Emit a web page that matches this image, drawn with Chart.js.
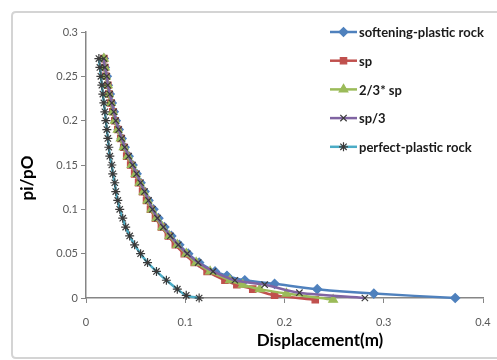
<!DOCTYPE html>
<html>
<head>
<meta charset="utf-8">
<script src="https://cdn.jsdelivr.net/npm/chart.js@4.4.1/dist/chart.umd.min.js"></script>
<style>
  html, body { margin: 0; padding: 0; background: #fff; }
  #wrap { width: 497px; height: 360px; position: relative; }
</style>
</head>
<body>
<div id="wrap"><canvas id="chart" width="497" height="360"></canvas></div>
<script>
// values: pi/pO levels and matching displacement (m)
const seriesNames = ["softening-plastic rock", "sp", "2/3* sp", "sp/3", "perfect-plastic rock"];

const softY = [0.27, 0.26, 0.25, 0.24, 0.23, 0.22, 0.21, 0.20, 0.19, 0.18, 0.17, 0.16, 0.15, 0.14, 0.13, 0.12, 0.11, 0.10, 0.09, 0.08, 0.07, 0.06, 0.05, 0.04, 0.03, 0.025, 0.02, 0.016, 0.01, 0.005, 0];
const softX = [0.018, 0.019, 0.021, 0.022, 0.024, 0.026, 0.028, 0.030, 0.033, 0.036, 0.039, 0.043, 0.047, 0.051, 0.055, 0.059, 0.063, 0.068, 0.073, 0.079, 0.086, 0.094, 0.103, 0.114, 0.130, 0.142, 0.160, 0.190, 0.233, 0.290, 0.372];

const spY = [0.27, 0.26, 0.25, 0.24, 0.23, 0.22, 0.21, 0.20, 0.19, 0.18, 0.17, 0.16, 0.15, 0.14, 0.13, 0.12, 0.11, 0.10, 0.09, 0.08, 0.07, 0.06, 0.05, 0.04, 0.03, 0.02, 0.015, 0.01, 0.003, -0.002];
const spX = [0.018, 0.019, 0.020, 0.022, 0.023, 0.025, 0.027, 0.029, 0.032, 0.035, 0.038, 0.041, 0.045, 0.049, 0.053, 0.057, 0.061, 0.065, 0.070, 0.076, 0.083, 0.090, 0.099, 0.109, 0.122, 0.140, 0.152, 0.168, 0.190, 0.231];

const sp23Y = [0.27, 0.26, 0.25, 0.24, 0.23, 0.22, 0.21, 0.20, 0.19, 0.18, 0.17, 0.16, 0.15, 0.14, 0.13, 0.12, 0.11, 0.10, 0.09, 0.08, 0.07, 0.06, 0.05, 0.04, 0.03, 0.02, 0.015, 0.01, 0.005, -0.002];
const sp23X = [0.018, 0.019, 0.020, 0.022, 0.023, 0.025, 0.027, 0.029, 0.032, 0.035, 0.038, 0.042, 0.046, 0.050, 0.054, 0.058, 0.062, 0.066, 0.071, 0.077, 0.084, 0.092, 0.101, 0.111, 0.125, 0.145, 0.158, 0.175, 0.202, 0.249];

const sp3Y = [0.27, 0.26, 0.25, 0.24, 0.23, 0.22, 0.21, 0.20, 0.19, 0.18, 0.17, 0.16, 0.15, 0.14, 0.13, 0.12, 0.11, 0.10, 0.09, 0.08, 0.07, 0.06, 0.05, 0.04, 0.03, 0.02, 0.015, 0.006, 0];
const sp3X = [0.018, 0.019, 0.021, 0.022, 0.024, 0.026, 0.028, 0.030, 0.033, 0.036, 0.039, 0.043, 0.047, 0.051, 0.055, 0.059, 0.063, 0.067, 0.072, 0.078, 0.085, 0.093, 0.102, 0.113, 0.128, 0.150, 0.180, 0.215, 0.281];

const perfY = [0.27, 0.26, 0.25, 0.24, 0.23, 0.22, 0.21, 0.20, 0.19, 0.18, 0.17, 0.16, 0.15, 0.14, 0.13, 0.12, 0.11, 0.10, 0.09, 0.08, 0.07, 0.06, 0.05, 0.04, 0.03, 0.02, 0.01, 0.003, 0];
const perfX = [0.013, 0.014, 0.015, 0.016, 0.017, 0.018, 0.019, 0.020, 0.021, 0.022, 0.023, 0.024, 0.026, 0.027, 0.029, 0.030, 0.032, 0.034, 0.037, 0.040, 0.044, 0.049, 0.055, 0.062, 0.071, 0.081, 0.092, 0.101, 0.114];

const xTicks = [0, 0.1, 0.2, 0.3, 0.4];
const yTicks = [0, 0.05, 0.1, 0.15, 0.2, 0.25, 0.3];

const toPoints = (xs, ys) => xs.map((x, i) => ({ x: x, y: ys[i] }));

const FONT = 'Lato, "Liberation Sans", Arial, sans-serif';

function makeSet(idx, xs, ys, line, mark, style, radius) {
    return {
        label: seriesNames[idx],
        data: toPoints(xs, ys),
        showLine: true,
        borderColor: line,
        borderWidth: 2.5,
        backgroundColor: mark,
        pointBackgroundColor: mark,
        pointBorderColor: mark,
        pointBorderWidth: 1.2,
        pointStyle: style,
        pointRadius: radius,
        tension: 0.3,
        clip: false,
        order: 5 - idx,
    };
}

// legend drawn inside the plot on the right, like the original
const sideLegend = {
    id: 'sideLegend',
    afterDraw(chart) {
        const ctx = chart.ctx;
        ctx.save();
        chart.data.datasets.forEach((ds, i) => {
            const y = 32 + i * 28.7;
            ctx.strokeStyle = ds.borderColor;
            ctx.lineWidth = 2.5;
            ctx.beginPath();
            ctx.moveTo(330, y);
            ctx.lineTo(357, y);
            ctx.stroke();
            ctx.fillStyle = ds.pointBackgroundColor;
            ctx.strokeStyle = ds.pointBorderColor;
            ctx.lineWidth = ds.pointBorderWidth;
            Chart.helpers.drawPoint(ctx, { pointStyle: ds.pointStyle, radius: ds.pointRadius, rotation: 0, borderWidth: ds.pointBorderWidth }, 343.5, y);
            ctx.fillStyle = '#1a1a1a';
            ctx.font = 'bold 13px ' + FONT;
            ctx.textBaseline = 'middle';
            ctx.textAlign = 'left';
            ctx.fillText(ds.label, 359, y + 1);
        });
        ctx.restore();
    }
};

// frame and axis titles
const frameAndTitles = {
    id: 'frameAndTitles',
    beforeDraw(chart) {
        const ctx = chart.ctx;
        ctx.save();
        ctx.fillStyle = '#fff';
        ctx.fillRect(0, 0, chart.width, chart.height);
        ctx.strokeStyle = '#d4d4d4';
        ctx.lineWidth = 2;
        ctx.beginPath();
        ctx.moveTo(505, 12);
        ctx.lineTo(16, 12);
        ctx.quadraticCurveTo(12, 12, 12, 16);
        ctx.lineTo(12, 354);
        ctx.quadraticCurveTo(12, 358, 16, 358);
        ctx.lineTo(505, 358);
        ctx.stroke();
        ctx.restore();
    },
    afterDraw(chart) {
        const ctx = chart.ctx;
        ctx.save();
        ctx.fillStyle = '#000';
        ctx.font = 'bold 17px ' + FONT;
        ctx.textAlign = 'center';
        ctx.textBaseline = 'middle';
        ctx.fillText('Displacement(m)', 320, 341);
        ctx.translate(28, 178);
        ctx.rotate(-Math.PI / 2);
        ctx.fillText('pi/pO', 0, 0);
        ctx.restore();
    }
};

const axisGrey = '#868686';

new Chart(document.getElementById('chart'), {
    type: 'scatter',
    data: {
        datasets: [
            makeSet(0, softX, softY, '#4F81BD', '#4F81BD', 'rectRot', 4.5),
            makeSet(1, spX, spY, '#C0504D', '#C0504D', 'rect', 4.5),
            makeSet(2, sp23X, sp23Y, '#9BBB59', '#9BBB59', 'triangle', 5),
            makeSet(3, sp3X, sp3Y, '#8064A2', '#3a3a3a', 'crossRot', 4.5),
            makeSet(4, perfX, perfY, '#4BACC6', '#3a3a3a', 'star', 4.5),
        ],
    },
    options: {
        responsive: false,
        animation: false,
        layout: { padding: { top: 32, right: 14, left: 0, bottom: 0 } },
        plugins: {
            legend: { display: false },
            tooltip: { enabled: false },
        },
        scales: {
            x: {
                type: 'linear',
                min: 0,
                max: 0.4,
                afterBuildTicks: (scale) => { scale.ticks = xTicks.map(v => ({ value: v })); },
                afterFit: (scale) => { scale.height = 62; scale.paddingRight = 0; scale.paddingLeft = 0; },
                grid: { drawOnChartArea: false, drawTicks: true, tickLength: 5, color: axisGrey },
                border: { color: axisGrey, width: 1.5 },
                ticks: {
                    color: '#595959',
                    font: { family: FONT, size: 11 },
                    padding: 13,
                    maxRotation: 0,
                    callback: (v) => String(v),
                },
            },
            y: {
                type: 'linear',
                min: 0,
                max: 0.3,
                afterBuildTicks: (scale) => { scale.ticks = yTicks.map(v => ({ value: v })); },
                afterFit: (scale) => { scale.width = 86; scale.paddingTop = 0; scale.paddingBottom = 0; },
                grid: { drawOnChartArea: false, drawTicks: true, tickLength: 5, color: axisGrey },
                border: { color: axisGrey, width: 1.5 },
                ticks: {
                    color: '#595959',
                    font: { family: FONT, size: 11 },
                    padding: 3,
                    callback: (v) => String(v),
                },
            },
        },
    },
    plugins: [frameAndTitles, sideLegend],
});
</script>
</body>
</html>
